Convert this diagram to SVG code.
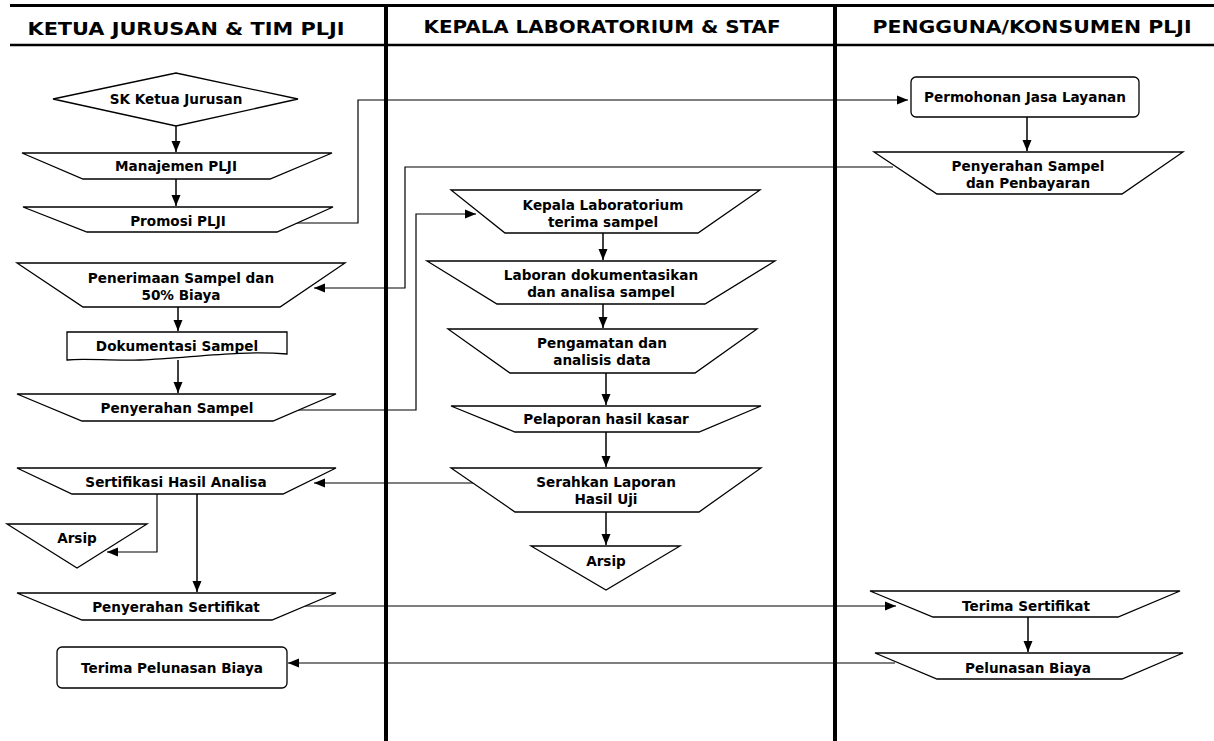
<svg xmlns="http://www.w3.org/2000/svg" width="1214" height="741" viewBox="0 0 1214 741">
<style>
.bg{fill:#fff}
.lane{stroke:#000;stroke-width:4;fill:none}
.hline{stroke:#000;fill:none}
.hd{font-family:"DejaVu Sans","Liberation Sans",sans-serif;font-weight:bold;font-size:18.5px;fill:#000;text-anchor:middle}
.sh{fill:#fff;stroke:#000;stroke-width:1.3}
.t{font-family:"DejaVu Sans","Liberation Sans",sans-serif;font-weight:bold;font-size:13.6px;fill:#000;text-anchor:middle;dominant-baseline:central}
.c{fill:none;stroke:#000;stroke-width:1.5}
.ct{fill:none;stroke:#000;stroke-width:1.2}
</style>
<defs>
<marker id="ah" markerUnits="userSpaceOnUse" markerWidth="12" markerHeight="10" refX="11" refY="5" orient="auto">
<path d="M0,0.5 L11,5 L0,9.5 Z" fill="#000"/>
</marker>
</defs>
<rect class="bg" x="0" y="0" width="1214" height="741"/>
<g id="lanes">
<line class="hline" x1="10" y1="5.5" x2="1214" y2="5.5" stroke-width="3"/>
<line class="hline" x1="10" y1="45" x2="1214" y2="45" stroke-width="2.5"/>
<line class="lane" x1="386" y1="4" x2="386" y2="741"/>
<line class="lane" x1="835" y1="4" x2="835" y2="741"/>
<text class="hd" x="186" y="35" textLength="317" lengthAdjust="spacingAndGlyphs">KETUA JURUSAN &amp; TIM PLJI</text>
<text class="hd" x="602" y="33" textLength="357" lengthAdjust="spacingAndGlyphs">KEPALA LABORATORIUM &amp; STAF</text>
<text class="hd" x="1032" y="33" textLength="319" lengthAdjust="spacingAndGlyphs">PENGGUNA/KONSUMEN PLJI</text>
</g>
<g id="connectors">
<path class="c" d="M176,126 V152" marker-end="url(#ah)"/>
<path class="c" d="M176,179 V206" marker-end="url(#ah)"/>
<path class="ct" d="M295,223 H358 V100 H908" marker-end="url(#ah)"/>
<path class="c" d="M1027,117 V151" marker-end="url(#ah)"/>
<path class="ct" d="M893,167 H405 V288 H314" marker-end="url(#ah)"/>
<path class="c" d="M178,307 V331" marker-end="url(#ah)"/>
<path class="c" d="M178,360 V393" marker-end="url(#ah)"/>
<path class="ct" d="M298,410 H416 V214 H476" marker-end="url(#ah)"/>
<path class="c" d="M603,233 V260" marker-end="url(#ah)"/>
<path class="c" d="M603,304 V328" marker-end="url(#ah)"/>
<path class="c" d="M606,373 V405" marker-end="url(#ah)"/>
<path class="c" d="M606,432 V467" marker-end="url(#ah)"/>
<path class="c" d="M606,512 V545" marker-end="url(#ah)"/>
<path class="ct" d="M473,483 H314" marker-end="url(#ah)"/>
<path class="ct" d="M157,494 V552 H107" marker-end="url(#ah)"/>
<path class="c" d="M197,494 V592" marker-end="url(#ah)"/>
<path class="ct" d="M305,606 H896" marker-end="url(#ah)"/>
<path class="c" d="M1028,617 V652" marker-end="url(#ah)"/>
<path class="ct" d="M895,663 H288" marker-end="url(#ah)"/>
</g>
<g id="sk-ketua">
<polygon class="sh" points="53,99 176,73 298,99 176,126"/>
<text class="t" x="176" y="99">SK Ketua Jurusan</text>
</g>
<g id="manajemen">
<polygon class="sh" points="22,153 332,153 270,179 83,179"/>
<text class="t" x="176" y="166">Manajemen PLJI</text>
</g>
<g id="promosi">
<polygon class="sh" points="23,207 333,207 277,232 87,232"/>
<text class="t" x="178" y="221">Promosi PLJI</text>
</g>
<g id="penerimaan">
<polygon class="sh" points="17,263 345,263 280,307 83,307"/>
<text class="t" x="181" y="278">Penerimaan Sampel dan</text>
<text class="t" x="181" y="295">50% Biaya</text>
</g>
<g id="dokumentasi">
<path class="sh" d="M67,332 H287 V354 C240,350 190,358 140,360 C110,361 85,358 67,360 Z"/>
<text class="t" x="177" y="346">Dokumentasi Sampel</text>
</g>
<g id="penyerahan-sampel">
<polygon class="sh" points="17,394 336,394 273,421 82,421"/>
<text class="t" x="177" y="408">Penyerahan Sampel</text>
</g>
<g id="sertifikasi">
<polygon class="sh" points="17,468 336,468 283,494 72,494"/>
<text class="t" x="176" y="482">Sertifikasi Hasil Analisa</text>
</g>
<g id="arsip-left">
<polygon class="sh" points="7,524 147,524 77,568"/>
<text class="t" x="77" y="538">Arsip</text>
</g>
<g id="penyerahan-sertifikat">
<polygon class="sh" points="17,593 336,593 272,620 82,620"/>
<text class="t" x="176" y="607">Penyerahan Sertifikat</text>
</g>
<g id="terima-pelunasan">
<rect class="sh" x="57" y="647" width="230" height="41" rx="5"/>
<text class="t" x="172" y="668">Terima Pelunasan Biaya</text>
</g>
<g id="kepala-lab">
<polygon class="sh" points="451,190 760,190 698,233 505,233"/>
<text class="t" x="603" y="205">Kepala Laboratorium</text>
<text class="t" x="603" y="222">terima sampel</text>
</g>
<g id="laboran">
<polygon class="sh" points="427,261 775,261 705,304 497,304"/>
<text class="t" x="601" y="275">Laboran dokumentasikan</text>
<text class="t" x="601" y="292">dan analisa sampel</text>
</g>
<g id="pengamatan">
<polygon class="sh" points="448,329 757,329 695,373 510,373"/>
<text class="t" x="602" y="343">Pengamatan dan</text>
<text class="t" x="602" y="360">analisis data</text>
</g>
<g id="pelaporan">
<polygon class="sh" points="451,406 761,406 699,432 515,432"/>
<text class="t" x="606" y="419">Pelaporan hasil kasar</text>
</g>
<g id="serahkan">
<polygon class="sh" points="451,468 761,468 699,512 515,512"/>
<text class="t" x="606" y="482">Serahkan Laporan</text>
<text class="t" x="606" y="499">Hasil Uji</text>
</g>
<g id="arsip-mid">
<polygon class="sh" points="531,546 680,546 606,590"/>
<text class="t" x="606" y="561">Arsip</text>
</g>
<g id="permohonan">
<rect class="sh" x="911" y="77" width="228" height="40" rx="5"/>
<text class="t" x="1025" y="97">Permohonan Jasa Layanan</text>
</g>
<g id="penyerahan-pembayaran">
<polygon class="sh" points="874,152 1183,152 1122,194 937,194"/>
<text class="t" x="1028" y="166">Penyerahan Sampel</text>
<text class="t" x="1028" y="183">dan Penbayaran</text>
</g>
<g id="terima-sertifikat">
<polygon class="sh" points="870,591 1180,591 1118,617 933,617"/>
<text class="t" x="1026" y="606">Terima Sertifikat</text>
</g>
<g id="pelunasan">
<polygon class="sh" points="875,653 1183,653 1122,679 937,679"/>
<text class="t" x="1028" y="668">Pelunasan Biaya</text>
</g>
</svg>
